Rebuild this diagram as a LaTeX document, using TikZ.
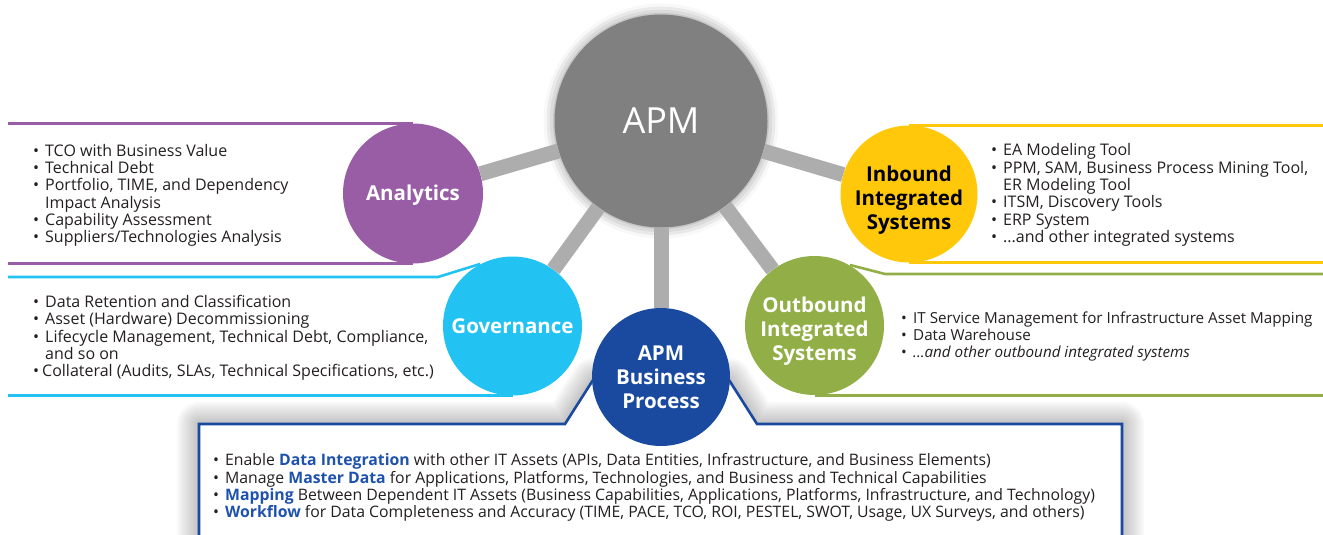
\documentclass[tikz,border=0pt]{standalone}
\usepackage{fontspec}
\setmainfont{Open Sans}
\usetikzlibrary{positioning,shadows.blur}
\definecolor{apmgray}{HTML}{808080}
\definecolor{spokegray}{HTML}{ADADAD}
\definecolor{anlpurple}{HTML}{985DA5}
\definecolor{govcyan}{HTML}{22C3F3}
\definecolor{inbyellow}{HTML}{FFC80B}
\definecolor{outgreen}{HTML}{91AF46}
\definecolor{bpblue}{HTML}{1A4A9F}
\definecolor{hlblue}{HTML}{1F52AC}
\definecolor{txt}{HTML}{231F20}
\newcommand{\itm}[1][12pt]{\makebox[#1][l]{\textbullet}}
\newcommand{\cnt}{\hspace*{12pt}}
\newcommand{\hl}[1]{\textcolor{hlblue}{\bfseries #1}}
\newcommand{\dn}{\rule{0pt}{27pt}}
\tikzset{
    bubble/.style={
           circle,
           minimum size=139pt,
           inner sep=0pt,
           align=center,
           text=white,
           font=\fontsize{20.5}{24}\selectfont\bfseries},
    spoke/.style={
           spokegray,
           line width=15pt},
    band/.style={
           line width=2.6pt},
    list/.style={
           anchor=north west,
           inner sep=0pt,
           align=left,
           text=txt,
           font=\fontsize{16}{17.3}\selectfont},
    glow/.style={
           blur shadow={shadow xshift=0pt, shadow yshift=0pt,
                        shadow blur radius=11pt, shadow opacity=45}}
}
\begin{document}
\begin{tikzpicture}[x=1pt,y=-1pt]
          \useasboundingbox (0,0) rectangle (1323,535);
          \clip (0,0) rectangle (1323,535);
          \coordinate (lft) at (8,0);
          \coordinate (rgt) at (1330,0);
          % bottom box with a soft shadow
          \path[save path=\boxpath] (199,560) -- (199,424) -- (565,424) -- (593,380) -- (729,380)
                -- (757,424) -- (1122,424) -- (1122,560) -- cycle;
          \foreach \w in {4,8,...,44}
              \draw[black, opacity=0.022, line width=\w pt, line join=round, use path=\boxpath];
          \fill[white, use path=\boxpath];
          \draw[bpblue, line width=2.6pt] (199,560) -- (199,424) -- (565,424) -- (593,380);
          \draw[bpblue, line width=2.6pt] (729,380) -- (757,424) -- (1122,424) -- (1122,560);
          % hub and the bubbles
          \node[bubble, fill=apmgray, minimum size=213pt, glow,
                font=\fontsize{36}{36}\selectfont](apm) at (661,121) {APM};
          \node[bubble, fill=anlpurple, minimum size=140pt](anl) at (413,193.5) {\rule{0pt}{18pt}Analytics};
          \node[bubble, fill=govcyan](gov) at (512.5,326) {Governance};
          \node[bubble, fill=inbyellow, minimum size=137pt, text=black](inb) at (909,194) {\dn Inbound\\Integrated\\Systems};
          \node[bubble, fill=outgreen](outb) at (814.5,325.5) {\dn Outbound\\Integrated\\Systems};
          \node[bubble, fill=bpblue, minimum size=138pt](bp) at (661,377) {APM\\Business\\Process};
          \draw[spoke] (apm) -- (anl);
          \draw[spoke] (apm) -- (gov);
          \draw[spoke] (apm) -- (inb);
          \draw[spoke] (apm) -- (outb);
          \draw[spoke] (apm) -- (bp);
          % bands
          \draw[band, anlpurple] (anl.north) -- (anl.north -| lft);
          \draw[band, anlpurple] (anl.south) -- (anl.south -| lft);
          \draw[band, govcyan] (480,264) -- (438,277) -- (lft |- 0,277);
          \draw[band, govcyan] (gov.south) -- (gov.south -| lft);
          \draw[band, inbyellow] (inb.north) -- (inb.north -| rgt);
          \draw[band, inbyellow] (inb.south) -- (inb.south -| rgt);
          \draw[band, outgreen] (850,265) -- (885,274) -- (rgt |- 0,274);
          \draw[band, outgreen] (outb.south) -- (outb.south -| rgt);
          % lists
          \node[list](anllist) at (33,144) {\itm TCO with Business Value\\ \itm Technical Debt\\
                \itm Portfolio, TIME, and Dependency\\ \cnt Impact Analysis\\
                \itm Capability Assessment\\ \itm Suppliers/Technologies Analysis};
          \node[list](govlist) at (33,295) {\itm Data Retention and Classification\\
                \itm Asset (Hardware) Decommissioning\\
                \itm Lifecycle Management, Technical Debt, Compliance,\\ \cnt and so on\\
                \itm[9pt]Collateral (Audits, SLAs, Technical Specifications, etc.)};
          \node[list](inblist) at (991,143.5) {\itm EA Modeling Tool\\
                \itm PPM, SAM, Business Process Mining Tool,\\ \cnt ER Modeling Tool\\
                \itm ITSM, Discovery Tools\\ \itm ERP System\\ \itm ...and other integrated systems};
          \node[list, font=\fontsize{15.2}{17.3}\selectfont](outlist) at (901,311.5) {\itm IT Service Management for Infrastructure Asset Mapping\\
                \itm Data Warehouse\\ \itm \textit{...and other outbound integrated systems}};
          \node[list, font=\fontsize{15.8}{17.3}\selectfont](bplist) at (213,453.5) {\itm Enable \hl{Data Integration} with other IT Assets (APIs, Data Entities, Infrastructure, and Business Elements)\\
                \itm Manage \hl{Master Data} for Applications, Platforms, Technologies, and Business and Technical Capabilities\\
                \itm \hl{Mapping} Between Dependent IT Assets (Business Capabilities, Applications, Platforms, Infrastructure, and Technology)\\
                \itm \hl{Workflow} for Data Completeness and Accuracy (TIME, PACE, TCO, ROI, PESTEL, SWOT, Usage, UX Surveys, and others)};
\end{tikzpicture}
\end{document}
